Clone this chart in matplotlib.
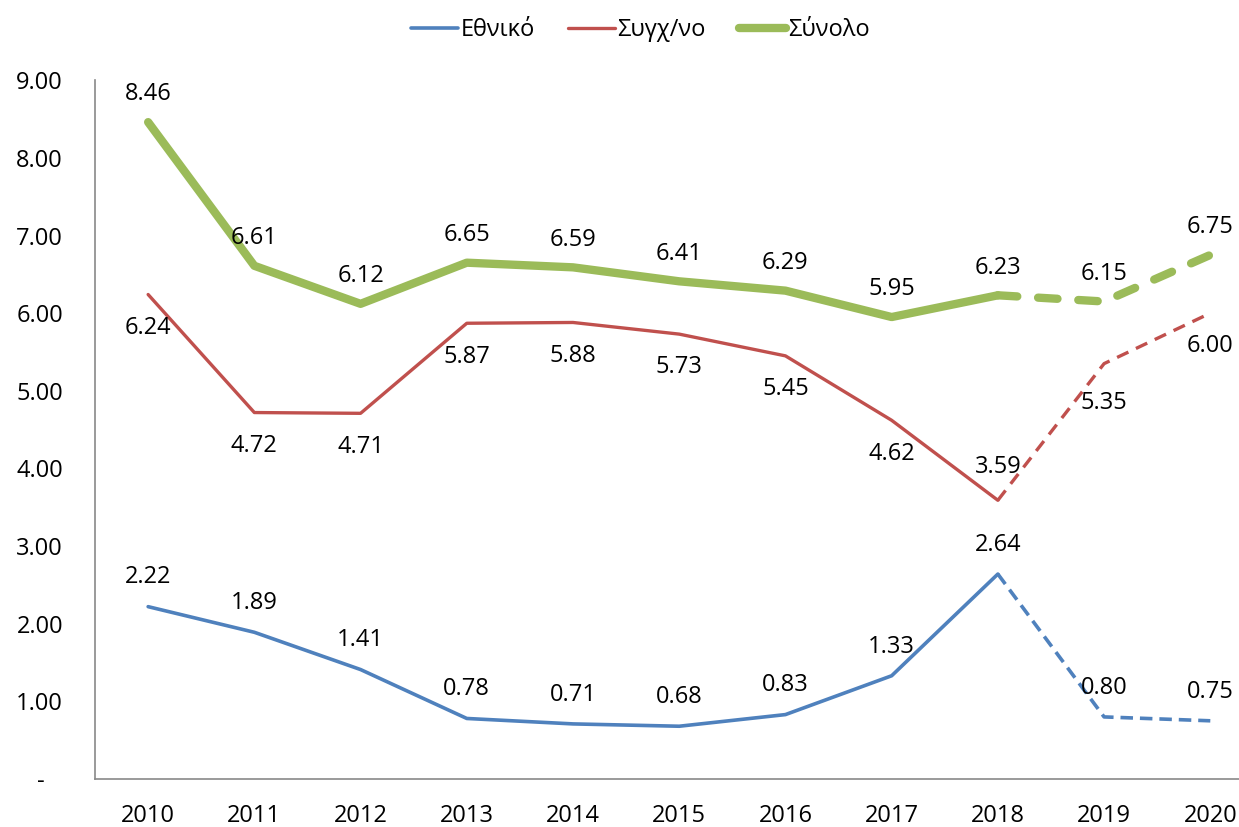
import matplotlib
matplotlib.use('Agg')
import matplotlib.pyplot as plt

years = ['2010', '2011', '2012', '2013', '2014', '2015', '2016', '2017', '2018', '2019', '2020']
ethniko = [2.22, 1.89, 1.41, 0.78, 0.71, 0.68, 0.83, 1.33, 2.64, 0.80, 0.75]
sygxno = [6.24, 4.72, 4.71, 5.87, 5.88, 5.73, 5.45, 4.62, 3.59, 5.35, 6.00]
synolo = [8.46, 6.61, 6.12, 6.65, 6.59, 6.41, 6.29, 5.95, 6.23, 6.15, 6.75]
names = ['Εθνικό', 'Συγχ/νο', 'Σύνολο']
yticks = [0, 1, 2, 3, 4, 5, 6, 7, 8, 9]
ytick_labels = ['-   ', '1.00', '2.00', '3.00', '4.00', '5.00', '6.00', '7.00', '8.00', '9.00']

plt.rcParams['font.family'] = ['Open Sans', 'DejaVu Sans']
plt.rcParams['font.size'] = 17
plt.rcParams['lines.scale_dashes'] = False

fig = plt.figure(figsize=(12.39, 8.27), dpi=100)
ax = fig.add_axes([0.0767, 0.058, 0.943, 0.845])

x = list(range(len(years)))
last = 8  # 2018 is the last actual value, after that dashed

blue = '#4F81BD'
red = '#C0504D'
green = '#9BBB59'

series = [
    (ethniko, blue, 2.6, (0, (9, 5)), 'butt'),
    (sygxno, red, 2.4, (0, (9, 6)), 'butt'),
    (synolo, green, 6.0, (0, (14, 15)), 'round'),
]

for (vals, col, lw, dash, cap), name in zip(series, names):
    ax.plot(x[:last + 1], vals[:last + 1], color=col, lw=lw, label=name,
            solid_capstyle='round', solid_joinstyle='round')
    ax.plot(x[last:], vals[last:], color=col, lw=lw, linestyle=dash,
            dash_capstyle=cap, dash_joinstyle='round')

# data labels
for i, v in enumerate(synolo):
    ax.annotate(f'{v:.2f}', (i, v), xytext=(0, 20), textcoords='offset points',
                ha='center', va='center')
for i, v in enumerate(sygxno):
    off = 24 if i == last else -24
    if i == 9:
        off = -28
    ax.annotate(f'{v:.2f}', (i, v), xytext=(0, off), textcoords='offset points',
                ha='center', va='center')
for i, v in enumerate(ethniko):
    ax.annotate(f'{v:.2f}', (i, v), xytext=(0, 21), textcoords='offset points',
                ha='center', va='center')

ax.set_xlim(-0.5, 10.5)
ax.set_ylim(0, 9)
ax.set_xticks(x)
ax.set_xticklabels(years)
ax.set_yticks(yticks)
ax.set_yticklabels(ytick_labels)
ax.tick_params(axis='both', length=0)
ax.tick_params(axis='y', pad=23)
ax.tick_params(axis='x', pad=18)

for s in ['top', 'right']:
    ax.spines[s].set_visible(False)
for s in ['left', 'bottom']:
    ax.spines[s].set_color('#898989')
    ax.spines[s].set_linewidth(1.2)

fig.legend(loc='center', bbox_to_anchor=(0.517, 0.964), ncol=3, frameon=False,
           handlelength=2.0, handletextpad=0.1, columnspacing=1.4)

fig.savefig('out.png', dpi=100)
